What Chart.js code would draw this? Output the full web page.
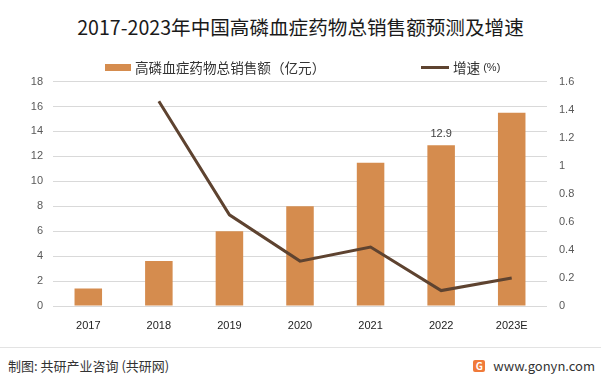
<!DOCTYPE html>
<html>
<head>
<meta charset="utf-8">
<script src="https://cdn.jsdelivr.net/npm/chart.js@4.4.1/dist/chart.umd.min.js"></script>
<style>
  body { margin: 0; background: #fff; font-family: "Noto Sans CJK SC", "Noto Sans", sans-serif; }
  #wrap { position: relative; width: 601px; height: 375px; overflow: hidden; }
  #title { position: absolute; left: 0; top: 12px; width: 601px; text-align: center; font-size: 19.6px; color: #1a1a1a; }
  .leg { position: absolute; top: 57px; font-size: 13.6px; color: #333; display: flex; align-items: center; z-index: 2; }
  .sw { display: inline-block; margin-right: 4px; }
  #chartBox { position: absolute; left: 0; top: 63px; width: 601px; height: 277px; }
  #sep { position: absolute; left: 0; top: 347px; width: 601px; height: 1px; background: #e3e3e3; }
  #src { position: absolute; left: 8px; top: 356px; font-size: 13px; color: #333; }
  #site { position: absolute; right: 6px; top: 356px; font-size: 13px; color: #333; display: flex; align-items: center; }
  #logo { width: 12px; height: 12px; background: #f07a3a; color: #fff; font-size: 10px; font-weight: bold; line-height: 12px; text-align: center; margin-right: 8px; border-radius: 2px; }
</style>
</head>
<body>
<div id="wrap">
  <div id="title">2017-2023年中国高磷血症药物总销售额预测及增速</div>
  <div id="chartBox"><canvas id="c"></canvas></div>
  <div class="leg" style="left:105px;"><span class="sw" style="width:26px;height:7px;background:#D58C4E;"></span>高磷血症药物总销售额（亿元）</div>
  <div class="leg" style="left:421px;"><span class="sw" style="width:28px;height:3px;background:#5E4330;"></span>增速 <span style="font-family:'Liberation Sans';font-size:11px;margin-left:3px;">(%)</span></div>
  <div id="sep"></div>
  <div id="src">制图: 共研产业咨询 (共研网)</div>
  <div id="site"><span id="logo">G</span>www.gonyn.com</div>
</div>
<script>
const years = ["2017", "2018", "2019", "2020", "2021", "2022", "2023E"];
const sales = [1.4, 3.6, 6.0, 8.0, 11.5, 12.9, 15.5];
const growth = [null, 1.46, 0.65, 0.32, 0.42, 0.11, 0.2];
const leftTicks = [0, 2, 4, 6, 8, 10, 12, 14, 16, 18];
const rightTicks = [0, 0.2, 0.4, 0.6, 0.8, 1, 1.2, 1.4, 1.6];

const labelOne = {
  id: "labelOne",
  afterDatasetsDraw(chart) {
    const ctx = chart.ctx;
    const bar = chart.getDatasetMeta(1).data[5];
    ctx.save();
    ctx.fillStyle = "#404040";
    ctx.font = "11px 'Liberation Sans', sans-serif";
    ctx.textAlign = "center";
    ctx.textBaseline = "bottom";
    ctx.fillText(String(sales[5]), bar.x, bar.y - 6);
    ctx.restore();
  }
};

new Chart(document.getElementById("c"), {
  data: {
    labels: years,
    datasets: [
      {
        type: "line",
        label: "增速 (%)",
        data: growth,
        yAxisID: "y2",
        borderColor: "#5E4330",
        borderWidth: 3,
        pointRadius: 0,
        tension: 0,
        order: 0
      },
      {
        type: "bar",
        label: "高磷血症药物总销售额（亿元）",
        data: sales,
        yAxisID: "y",
        backgroundColor: "#D58C4E",
        barPercentage: 0.39,
        categoryPercentage: 1,
        order: 1
      }
    ]
  },
  options: {
    responsive: true,
    maintainAspectRatio: false,
    animation: false,
    layout: { padding: { top: 4, bottom: 0 } },
    plugins: { legend: { display: false }, tooltip: { enabled: false } },
    scales: {
      x: {
        grid: { display: false },
        border: { display: false },
        ticks: { color: "#222", font: { size: 11, family: "Liberation Sans" }, padding: 5 },
        afterFit(s) { s.height = 34; }
      },
      y: {
        position: "left",
        min: 0,
        max: 18,
        afterBuildTicks(s) { s.ticks = leftTicks.map(v => ({ value: v })); },
        grid: { color: "#d9d9d9", drawTicks: false },
        border: { display: false },
        ticks: { color: "#595959", font: { size: 11, family: "Liberation Sans" }, padding: 10 },
        afterFit(s) { s.width = 53; }
      },
      y2: {
        position: "right",
        min: 0,
        max: 1.6,
        afterBuildTicks(s) { s.ticks = rightTicks.map(v => ({ value: v })); },
        grid: { display: false, drawTicks: false },
        border: { display: false },
        ticks: {
          color: "#595959",
          font: { size: 11, family: "Liberation Sans" },
          padding: 12,
          callback: (v) => String(Math.round(v * 10) / 10)
        },
        afterFit(s) { s.width = 54; }
      }
    }
  },
  plugins: [labelOne]
});
</script>
</body>
</html>
